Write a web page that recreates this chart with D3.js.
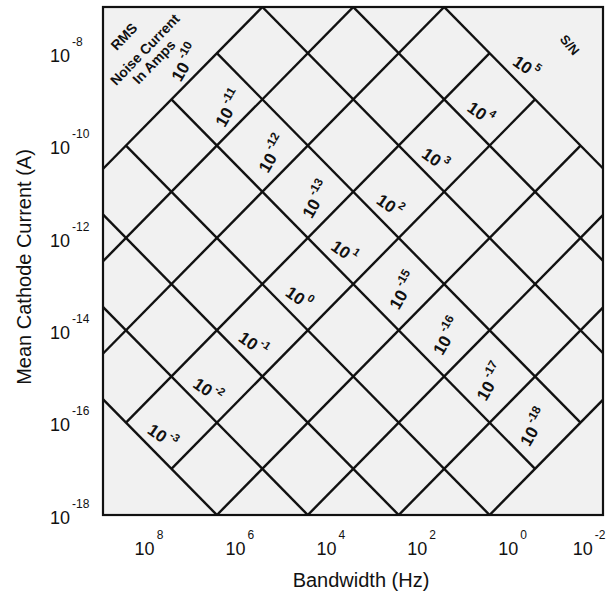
<!DOCTYPE html>
<html>
<head>
<meta charset="utf-8">
<script src="https://cdn.jsdelivr.net/npm/d3@7/dist/d3.min.js"></script>
<style>
  body { margin: 0; background: #fff; }
  svg { display: block; font-family: "Liberation Sans", Arial, Helvetica, sans-serif; }
</style>
</head>
<body>
<svg id="chart" width="606" height="594"></svg>
<script>
// Shot-noise nomogram: RMS noise current and signal-to-noise ratio
// versus mean cathode current and measurement bandwidth.

// Axis ticks (log10 exponents)
const bandwidthTicks = [8, 6, 4, 2, 0, -2];          // Hz
const currentTicks   = [-8, -10, -12, -14, -16, -18]; // A

// Axis extents
const bandwidthDomain = [1e9, 1e-2];
const currentDomain   = [1e-18, 1e-7];

// Families of constant-value lines (log10 exponents)
const noiseLines  = [-10, -11, -12, -13, -14, -15, -16, -17, -18]; // RMS noise current, A
const noiseLabels = [-10, -11, -12, -13, -15, -16, -17, -18];
const snLines     = [-3, -2, -1, 0, 1, 2, 3, 4, 5];                // S/N
const snLabels    = [-3, -2, -1, 0, 1, 2, 3, 4, 5];

// Shot noise: i_n^2 = 2 q I B  ->  log10(2q)
const LOG_2Q = Math.log10(2 * 1.602e-19);

const svg = d3.select("#chart");
const x = d3.scaleLog().domain(bandwidthDomain).range([103, 603]);
const y = d3.scaleLog().domain(currentDomain).range([515, 7]);
const [x0, x1] = x.range(), [y0, y1] = y.range();
const ink = "#111";

// Point where noise line k crosses S/N line m
function lattice(k, m) {
  const logI = k + m;
  const logB = k - m - LOG_2Q;
  return [x(Math.pow(10, logB)), y(Math.pow(10, logI))];
}

// Plot background and clip
svg.append("rect")
  .attr("x", x0).attr("y", y1).attr("width", x1 - x0).attr("height", y0 - y1)
  .attr("fill", "#f1f1f1");

svg.append("clipPath").attr("id", "plot-clip")
  .append("rect")
  .attr("x", x0).attr("y", y1).attr("width", x1 - x0).attr("height", y0 - y1);

const grid = svg.append("g").attr("clip-path", "url(#plot-clip)")
  .attr("stroke", ink).attr("stroke-width", 2.4).attr("fill", "none");

const snMin = d3.min(snLines), snMax = d3.max(snLines);
const nMin = d3.min(noiseLines), nMax = d3.max(noiseLines);
const line = d3.line();

grid.selectAll("path.noise").data(noiseLines).join("path")
  .attr("class", "noise")
  .attr("d", k => line([lattice(k, snMin), lattice(k, snMax)]));

grid.selectAll("path.sn").data(snLines).join("path")
  .attr("class", "sn")
  .attr("d", m => line([lattice(nMin, m), lattice(nMax, m)]));

// Frame
svg.append("rect")
  .attr("x", x0).attr("y", y1).attr("width", x1 - x0).attr("height", y0 - y1)
  .attr("fill", "none").attr("stroke", ink).attr("stroke-width", 2.2);

// Power-of-ten label: "10" followed by a raised exponent
function powerLabel(sel, exp, supSize, supDy, supDx) {
  sel.text(null);
  sel.append("tspan").text("10");
  sel.append("tspan").attr("font-size", supSize).attr("dy", supDy).attr("dx", supDx)
    .text(exp < 0 ? "-" + Math.abs(exp) : String(exp));
}

// Y axis
const yAxis = svg.append("g").attr("transform", `translate(${x0},0)`)
  .call(d3.axisLeft(y).tickValues(currentTicks.map(e => Math.pow(10, e)))
        .tickSize(0).tickFormat(""));
yAxis.select(".domain").remove();
yAxis.selectAll(".tick text")
  .attr("x", 50 - x0).attr("dy", "0.45em")
  .attr("text-anchor", "start")
  .attr("font-size", 18).attr("font-family", null).attr("fill", ink)
  .each(function(d) { powerLabel(d3.select(this), Math.round(Math.log10(d)), 12, -16, 2); });

// X axis
const xAxis = svg.append("g").attr("transform", `translate(0,${y0})`)
  .call(d3.axisBottom(x).tickValues(bandwidthTicks.map(e => Math.pow(10, e)))
        .tickSize(0).tickFormat(""));
xAxis.select(".domain").remove();
xAxis.selectAll(".tick text")
  .attr("y", 40).attr("dy", 0)
  .attr("font-size", 18).attr("font-family", null).attr("fill", ink)
  .each(function(d, i, nodes) {
    const t = d3.select(this);
    powerLabel(t, Math.round(Math.log10(d)), 12, -16, 2);
    if (i === nodes.length - 1) t.attr("text-anchor", "end").attr("x", 2);
  });

// Axis titles
svg.append("text")
  .attr("x", 361).attr("y", 587).attr("text-anchor", "middle")
  .attr("font-size", 20).attr("fill", ink)
  .text("Bandwidth (Hz)");

svg.append("text")
  .attr("transform", "translate(31,267) rotate(-90)")
  .attr("text-anchor", "middle")
  .attr("font-size", 20).attr("fill", ink)
  .text("Mean Cathode Current (A)");

// Line labels
const labels = svg.append("g").attr("font-weight", "bold").attr("fill", ink);

// Noise labels sit just above-left of their line, drifting slightly
// further from it toward the low-current end of the row.
labels.selectAll("text.noise-label").data(noiseLabels).join("text")
  .attr("class", "noise-label")
  .attr("transform", k => {
    const step = nMax - k;
    const [px, py] = lattice(k + 0.24 + 0.027 * step, 1.55 - 0.014 * step);
    return `translate(${px},${py}) rotate(-60)`;
  })
  .attr("text-anchor", "middle").attr("dy", "0.35em")
  .attr("font-size", 17)
  .each(function(k) { powerLabel(d3.select(this), k, 12, -9, 3); });

labels.selectAll("text.sn-label").data(snLabels).join("text")
  .attr("class", "sn-label")
  .attr("transform", m => {
    const [px, py] = lattice(-13.55, m + 0.25);
    return `translate(${px},${py}) rotate(35)`;
  })
  .attr("text-anchor", "middle").attr("dy", "0.35em")
  .attr("font-size", 17)
  .each(function(m) { powerLabel(d3.select(this), m, 11, -9, 2); });

// Family captions, anchored in data space (bandwidth, current)
const captions = [
  { text: "RMS",           b: Math.pow(10, 8.54),  i: Math.pow(10, -7.64), angle: -46, size: 14 },
  { text: "Noise Current", b: Math.pow(10, 8.08),  i: Math.pow(10, -7.92), angle: -46, size: 14 },
  { text: "In Amps",       b: Math.pow(10, 7.88),  i: Math.pow(10, -8.19), angle: -46, size: 14 },
  { text: "S/N",           b: Math.pow(10, -1.27), i: Math.pow(10, -7.82), angle: 50,  size: 13 }
];
labels.selectAll("text.caption").data(captions).join("text")
  .attr("class", "caption")
  .attr("transform", d => `translate(${x(d.b)},${y(d.i)}) rotate(${d.angle})`)
  .attr("text-anchor", "middle").attr("dy", "0.35em")
  .attr("font-size", d => d.size)
  .text(d => d.text);
</script>
</body>
</html>
